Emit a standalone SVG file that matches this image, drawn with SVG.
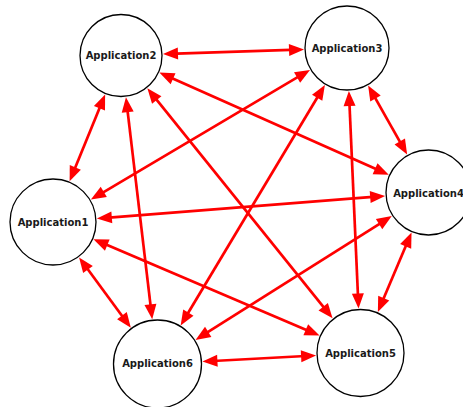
<svg xmlns="http://www.w3.org/2000/svg" width="463" height="407" viewBox="0 0 463 407">
<style>
.e{stroke:#ff0000;stroke-width:2.7;fill:none;marker-start:url(#ah);marker-end:url(#ah)}
.n circle{fill:#ffffff;stroke:#000000;stroke-width:1.3}
.n text{font-family:"DejaVu Sans",sans-serif;font-weight:bold;font-size:10px;fill:#1a1a1a;text-anchor:middle;dominant-baseline:central}
</style>
<defs>
<marker id="ah" markerUnits="userSpaceOnUse" markerWidth="16" markerHeight="13" refX="9" refY="6" orient="auto-start-reverse" overflow="visible">
<path d="M0,0 L15,6 L0,12 z" fill="#ff0000"/>
</marker>
</defs>
<rect width="463" height="407" fill="#ffffff"/>
<g id="nodes-bg">
<g id="n1" class="n"><circle cx="53" cy="222" r="43"/></g>
<g id="n2" class="n"><circle cx="121" cy="55.5" r="41"/></g>
<g id="n3" class="n"><circle cx="347" cy="48" r="42"/></g>
<g id="n4" class="n"><circle cx="428.5" cy="192.5" r="42.5"/></g>
<g id="n5" class="n"><circle cx="360.5" cy="353" r="43.5"/></g>
<g id="n6" class="n"><circle cx="157.5" cy="364" r="44"/></g>
</g>
<g id="edges">
<line class="e" x1="71.9" y1="175.71" x2="102.85" y2="99.94"/>
<line class="e" x1="96.03" y1="196.54" x2="304.83" y2="72.95"/>
<line class="e" x1="102.85" y1="218.09" x2="379.15" y2="196.37"/>
<line class="e" x1="99" y1="241.6" x2="314.04" y2="333.21"/>
<line class="e" x1="82.64" y1="262.27" x2="127.27" y2="322.93"/>
<line class="e" x1="168.98" y1="53.91" x2="298.03" y2="49.62"/>
<line class="e" x1="164.84" y1="75.04" x2="383.29" y2="172.35"/>
<line class="e" x1="151.1" y1="92.89" x2="328.83" y2="313.66"/>
<line class="e" x1="126.65" y1="103.17" x2="151.5" y2="313.35"/>
<line class="e" x1="371.07" y1="90.68" x2="404.18" y2="149.39"/>
<line class="e" x1="349.16" y1="96.95" x2="358.27" y2="302.55"/>
<line class="e" x1="321.8" y1="90.03" x2="183.73" y2="320.26"/>
<line class="e" x1="409.19" y1="238.08" x2="380.2" y2="306.5"/>
<line class="e" x1="386.67" y1="219.27" x2="200.6" y2="336.72"/>
<line class="e" x1="310.07" y1="355.73" x2="208.43" y2="361.24"/>
</g>
<g id="labels">
<g id="l1" class="n"><text x="53" y="222">Application1</text></g>
<g id="l2" class="n"><text x="121" y="55.5">Application2</text></g>
<g id="l3" class="n"><text x="347" y="48">Application3</text></g>
<g id="l4" class="n"><text x="428.5" y="193.5">Application4</text></g>
<g id="l5" class="n"><text x="360.5" y="353">Application5</text></g>
<g id="l6" class="n"><text x="157.5" y="363">Application6</text></g>
</g>
</svg>
